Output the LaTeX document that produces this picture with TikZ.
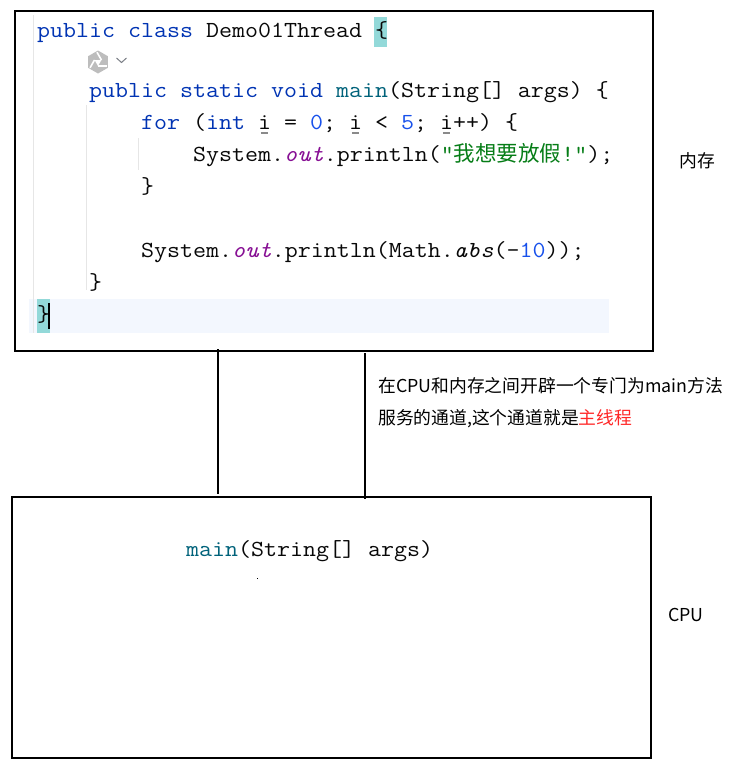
\documentclass[tikz,border=0pt]{standalone}
\usepackage{fontspec}
\newfontfamily\codefont[FakeStretch=1.097]{Latin Modern Mono}
\newfontfamily\cjk{Noto Sans CJK SC}
\definecolor{kw}{HTML}{0033B3}
\definecolor{mainc}{HTML}{00627A}
\definecolor{outc}{HTML}{871094}
\definecolor{num}{HTML}{1750EB}
\definecolor{strc}{HTML}{067D17}
\definecolor{codeblack}{HTML}{080808}
\definecolor{curline}{HTML}{F3F7FE}
\definecolor{bracebg}{HTML}{93D9D9}
\definecolor{guidec}{HTML}{E6E6E6}
\definecolor{ulgray}{HTML}{8A8A8A}
\definecolor{icongray}{HTML}{BDBDBD}
\definecolor{chevc}{HTML}{7A7E85}
\definecolor{redc}{HTML}{FF2626}
\newcommand\uvar[1]{\makebox[0pt][l]{\kern0.12em\textcolor{ulgray}{\rule[-0.2em]{0.3em}{0.05em}}}#1}
\newcommand\cjkcode[1]{{\cjk\fontsize{21.5}{24}\selectfont #1}}
\begin{document}
\begin{tikzpicture}[x=1pt,y=-1pt,
  codeline/.style={anchor=base west, inner sep=0pt, text=codeblack,
    font=\codefont\fontsize{23}{26}\selectfont},
  label/.style={anchor=base west, inner sep=0pt, text=black,
    font=\cjk\fontsize{17.8}{20}\selectfont},
  frame/.style={draw=black, line width=1.2pt},
  link/.style={draw=black, line width=1.2pt},
  guide/.style={draw=guidec, line width=1pt}]
\useasboundingbox (0,0) rectangle (747,772);
% highlights
\fill[curline] (29,299) rectangle (609,333);
\fill[bracebg] (37,299) rectangle (50,333);
\fill[bracebg] (374,17) rectangle (387,47);
% indent guides
\draw[guide] (33,15) -- (33,333);
\draw[guide] (86,105) -- (86,290);
\draw[guide] (138,138) -- (138,170);
% frames
\draw[frame] (15,11) rectangle (653,351);
\draw[frame] (12,497) rectangle (651,758);
% code
\node[codeline] (c1) at (37,37) {{\color{kw}public class} Demo01Thread \{};
\begin{scope}[shift={(98,62)}]
  \fill[icongray] (30:11.5) -- (90:11.5) -- (150:11.5) -- (210:11.5) -- (270:11.5) -- (330:11.5) -- cycle;
  \fill[white] (90:4) -- (210:4) -- (330:4) -- cycle;
  \foreach \a in {90,210,330} {
    \draw[white, line width=1.6pt] (\a:4) -- ++(\a-90:9);
  }
\end{scope}
\draw[chevc, line width=1pt] (116.5,58) -- (121.5,62.5) -- (126.5,58);
\node[codeline] (c3) at (89,97) {{\color{kw}public static void} {\color{mainc}main}(String[] args) \{};
\node[codeline] (c4) at (141,129) {{\color{kw}for} ({\color{kw}int} \uvar{i} = {\color{num}0}; \uvar{i} < {\color{num}5}; \uvar{i}++) \{};
\node[codeline] (c5) at (193,161) {System.{\color{outc}\itshape out}.println({\color{strc}"\cjkcode{我想要放假}!"});};
\node[codeline] (c6) at (141,193) {\}};
\node[codeline] (c7) at (141,257) {System.{\color{outc}\itshape out}.println(Math.{\itshape abs}(-{\color{num}10}));};
\node[codeline] (c8) at (89,289) {\}};
\node[codeline] (c9) at (37,321) {\}};
\fill[black] (48,303) rectangle (50.2,329);
% labels
\node[label] (memlabel) at (679,167) {内存};
\node[label] (cpulabel) at (668,621) {CPU};
\node[label] (note1) at (378,392) {在CPU和内存之间开辟一个专门为main方法};
\node[label] (note2) at (378,424) {服务的通道,这个通道就是\textcolor{redc}{主线程}};
% cpu box text
\node[codeline] (cpumain) at (186,556) {{\color{mainc}main}(String[] args)};
\fill[black] (257,577.5) rectangle (258.2,578.7);
% connectors
\coordinate (a1) at (218,349);
\coordinate (a2) at (218,494);
\coordinate (b1) at (365,353);
\coordinate (b2) at (365,499);
\draw[link] (a1) -- (a2);
\draw[link] (b1) -- (b2);
\end{tikzpicture}
\end{document}
